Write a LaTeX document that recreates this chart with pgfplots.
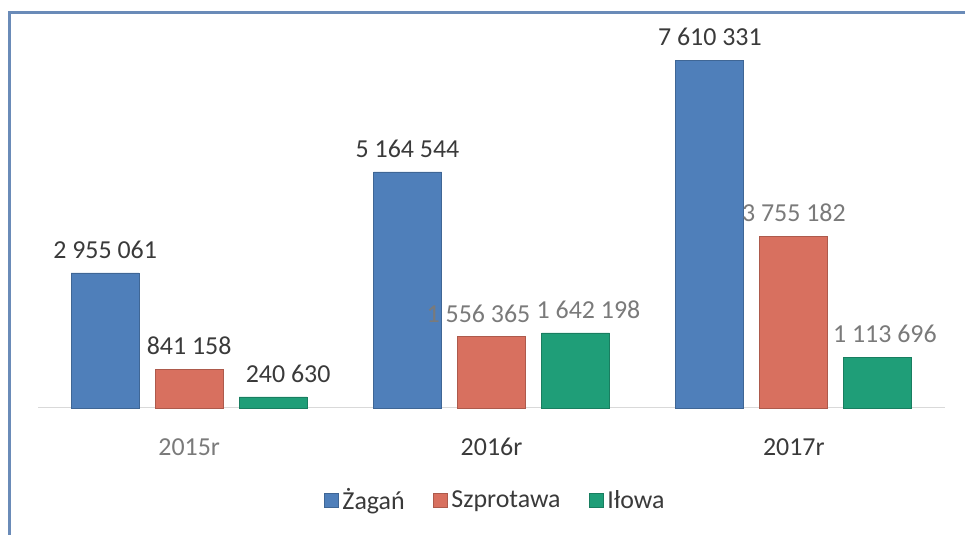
\documentclass[border=0pt]{standalone}
\usepackage{pgfplots}
\pgfplotsset{compat=1.18}
\usepackage{fontspec}
\setmainfont{Carlito}
\definecolor{cblue}{HTML}{4F7FBA}
\definecolor{cred}{HTML}{D8705F}
\definecolor{cgreen}{HTML}{1F9E78}
\definecolor{frame}{HTML}{6A8BB8}
\definecolor{ldark}{HTML}{3A3A3A}
\definecolor{lgray}{HTML}{7A7A7A}
\begin{document}
\begin{tikzpicture}[x=1bp,y=1bp]
\useasboundingbox (0,0) rectangle (965,535);
\draw[line width=3bp, color=frame] (9,0) -- (9,522) -- (965,522);
\begin{axis}[
  at={(38bp,127bp)}, anchor=south west,
  scale only axis, width=907bp, height=388.5bp,
  xmin=-0.5, xmax=2.5, ymin=0, ymax=8.5e6,
  ybar=16bp, bar width=68bp,
  axis y line=none, axis x line*=bottom,
  ytick=\empty,
  x axis line style={draw=black!15, line width=1bp},
  xtick={0,1,2},
  xticklabels={\textcolor{lgray}{2015r},\textcolor{ldark}{2016r},\textcolor{ldark}{2017r}},
  major tick length=0pt,
  xticklabel style={font=\fontsize{26}{31}\selectfont, inner sep=0pt, yshift=-30bp},
  nodes near coords, point meta=explicit symbolic,
  nodes near coords style={font=\fontsize{26}{31}\selectfont, color=ldark, anchor=south, inner sep=0pt, yshift=14bp},
  legend style={at={(0.504,-0.237)}, anchor=center, draw=none, legend columns=3,
    font=\fontsize{26}{31}\selectfont, text=ldark,
    /tikz/every even column/.append style={column sep=26bp},
    /tikz/every odd column/.append style={column sep=2bp}},
  legend image code/.code={\fill[#1] (0bp,-7bp) rectangle (14bp,7bp);},
  clip=false,
]
\addplot[fill=cblue, draw=cblue!80!black, line width=0.8bp] coordinates {
  (0,2955061) [2 955 061]
  (1,5164544) [5 164 544]
  (2,7610331) [7 610 331]
};
\addlegendentry{Żagań}
\addplot[fill=cred, draw=cred!80!black, line width=0.8bp] coordinates {
  (0,841158) [841 158]
  (1,1556365) [\textcolor{lgray}{1 556 365}\kern26bp]
  (2,3755182) [\textcolor{lgray}{3 755 182}]
};
\addlegendentry{Szprotawa}
\addplot[fill=cgreen, draw=cgreen!80!black, line width=0.8bp] coordinates {
  (0,240630) [\kern30bp 240 630]
  (1,1642198) [\kern26bp\textcolor{lgray}{1 642 198}]
  (2,1113696) [\kern14bp\textcolor{lgray}{1 113 696}]
};
\addlegendentry{Iłowa}
\end{axis}
\end{tikzpicture}
\end{document}
